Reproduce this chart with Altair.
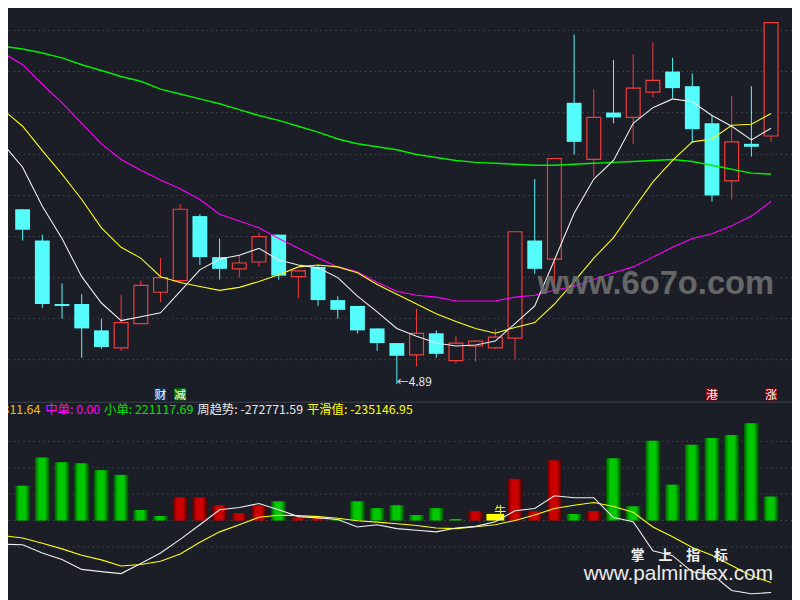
import altair as alt
import pandas as pd

# ---------------- data ----------------
opens = [6.68, 6.36, 5.71, 5.71, 5.44, 5.26, 5.51, 5.83, 5.95, 6.61, 6.19, 6.07, 6.14, 6.42, 5.99, 6.09, 5.75, 5.69, 5.46, 5.31,
         5.19, 5.41, 5.13, 5.28, 5.26, 5.36, 6.36, 6.17, 7.77, 7.19, 7.67, 7.62, 7.88, 8.09, 7.94, 7.56, 6.97, 7.35, 7.43]
closes = [6.47, 5.71, 5.69, 5.46, 5.27, 5.52, 5.90, 5.98, 6.68, 6.19, 6.07, 6.13, 6.40, 6.00, 6.05, 5.75, 5.65, 5.44, 5.31, 5.18,
          5.41, 5.20, 5.31, 5.33, 5.37, 6.45, 6.07, 7.20, 7.37, 7.62, 7.62, 7.92, 8.00, 7.92, 7.50, 6.82, 7.37, 7.32, 8.59]
highs = [6.68, 6.42, 5.92, 5.81, 5.56, 5.80, 5.95, 6.18, 6.73, 6.63, 6.38, 6.21, 6.44, 6.42, 6.06, 6.11, 5.79, 5.69, 5.46, 5.31,
         5.66, 5.44, 5.38, 5.34, 5.45, 6.45, 6.99, 7.20, 8.47, 7.91, 8.21, 8.27, 8.39, 8.23, 8.07, 7.64, 7.84, 7.94, 8.59]
lows = [6.36, 5.67, 5.56, 5.16, 5.25, 5.23, 5.50, 5.73, 5.93, 6.11, 5.96, 5.98, 6.09, 5.96, 5.77, 5.69, 5.56, 5.41, 5.23, 4.89,
        5.07, 5.16, 5.10, 5.12, 5.25, 5.14, 6.02, 5.90, 7.24, 7.01, 7.56, 7.35, 7.83, 7.82, 7.36, 6.76, 6.78, 7.22, 7.37]

# moving averages, first value belongs to the bar just before the visible window
ma5 = [7.35, 7.11, 6.71, 6.38, 5.99, 5.72, 5.54, 5.58, 5.62, 5.84, 6.06, 6.17, 6.21, 6.28, 6.16, 6.11, 6.08, 5.98, 5.79, 5.63,
       5.46, 5.38, 5.31, 5.28, 5.29, 5.33, 5.51, 5.69, 6.16, 6.64, 6.99, 7.18, 7.56, 7.72, 7.81, 7.78, 7.64, 7.53, 7.39, 7.51]
ma10 = [7.70, 7.53, 7.28, 7.04, 6.78, 6.49, 6.29, 6.18, 5.99, 5.93, 5.89, 5.85, 5.88, 5.94, 6.01, 6.09, 6.11, 6.09, 6.03, 5.91,
        5.81, 5.71, 5.61, 5.53, 5.46, 5.41, 5.47, 5.52, 5.71, 5.94, 6.18, 6.39, 6.68, 6.96, 7.18, 7.37, 7.40, 7.54, 7.55, 7.66]
ma20 = [8.28, 8.16, 7.96, 7.77, 7.56, 7.35, 7.19, 7.08, 6.98, 6.89, 6.78, 6.63, 6.56, 6.49, 6.38, 6.28, 6.18, 6.09, 6.04, 5.93,
        5.84, 5.80, 5.78, 5.74, 5.74, 5.74, 5.78, 5.80, 5.85, 5.89, 5.96, 6.03, 6.09, 6.19, 6.29, 6.38, 6.43, 6.51, 6.61, 6.76]
ma60 = [8.35, 8.32, 8.28, 8.23, 8.16, 8.10, 8.04, 7.99, 7.91, 7.86, 7.81, 7.76, 7.70, 7.64, 7.59, 7.53, 7.47, 7.40, 7.35, 7.32,
        7.29, 7.24, 7.21, 7.18, 7.16, 7.15, 7.14, 7.13, 7.13, 7.14, 7.15, 7.16, 7.17, 7.18, 7.19, 7.17, 7.13, 7.09, 7.05, 7.04]

# lower panel
bar_vals = [132000, 239000, 221000, 217000, 191000, 173000, 40000, 17000, 88000, 88000, 58000, 28000, 58000, 73000, 11000,
            14000, 4000, 73000, 47000, 58000, 21000, 47000, 6000, 36000, 25000, 158000, 36000, 228000, 25000, 36000,
            236000, 54000, 302000, 136000, 287000, 313000, 324000, 369000, 91000]
bar_kind = ["g", "g", "g", "g", "g", "g", "g", "g", "r", "r", "r", "r", "r", "g", "r", "r", "g", "g", "g", "g",
            "g", "g", "g", "r", "y", "r", "r", "r", "g", "r", "g", "g", "g", "g", "g", "g", "g", "g", "g"]
trend = [-89910, -91760, -123210, -148000, -185000, -193510, -200910, -162800, -123210, -71410, -15910, 40700, 49580,
         64380, 40700, 14800, 9990, 3700, -24420, -15910, -30710, -37000, -42920, -28120, -22200, -4810, 37000, 45880,
         93980, 86580, 86580, 11100, -4810, -114700, -133200, -194620, -203500, -264920, -277500, -272771.59]
smooth = [-57350, -65860, -86210, -107300, -131720, -149110, -172420, -166500, -153920, -126910, -82510, -42920, -15910,
          12580, 19980, 18500, 14800, 8880, -1110, -5920, -12210, -18500, -28120, -30710, -23310, -15910, 200, 21090,
          45880, 58090, 68080, 53280, 31080, -24420, -61420, -102120, -131720, -170200, -209420, -235146.95]
big_order = 311.64
mid_order = 0.00
small_order = 221117.69

signal_idx = [7, 8, 35, 38]
signal_txt = ["财", "减", "港", "涨"]

price_ticks = [8.51, 8.09, 7.67, 7.24, 6.82, 6.40, 5.98, 5.56, 5.14]
vol_ticks = [-100000, 0, 100000, 200000, 300000]

# ---------------- frames ----------------
n = len(opens)
cdf = pd.DataFrame({"i": range(n), "o": opens, "c": closes, "h": highs, "l": lows})
cdf["up"] = cdf["c"] >= cdf["o"]
cdf["top"] = cdf[["o", "c"]].max(axis=1)
cdf["bot"] = cdf[["o", "c"]].min(axis=1)

mdf = pd.DataFrame({"i": range(-1, n), "ma5": ma5, "ma10": ma10, "ma20": ma20, "ma60": ma60,
                    "trend": trend, "smooth": smooth})
vdf = pd.DataFrame({"i": range(n), "v": bar_vals, "k": bar_kind, "z": 0})
low_i = int(cdf["l"].idxmin())
lowdf = pd.DataFrame({"i": [low_i], "l": [lows[low_i]], "t": ["←" + f"{lows[low_i]:.2f}"]})
sdf = pd.DataFrame({"i": signal_idx, "t": signal_txt})

# ---------------- styles ----------------
W, H = 792, 592
SX, SY = W / 800.0, H / 600.0
BG = "#1b1e26"
RED = "#f43c3c"
CYAN = "#54fcfc"
GRID = "#454953"
FONT = "Noto Sans CJK SC"

xs = alt.Scale(domain=[-10 / 20.355, 790 / 20.355], nice=False, zero=False)
ps = alt.Scale(domain=[2.71, 8.71], nice=False, zero=False)
vs = alt.Scale(domain=[-289710, 1930290], nice=False, zero=False)

X = alt.X("i:Q", scale=xs, axis=None)


def PY(f):
    return alt.Y(f + ":Q", scale=ps, axis=None)


def VY(f):
    return alt.Y(f + ":Q", scale=vs, axis=None)


def px(v):
    return alt.value(v * SX)


def py(v):
    return alt.value(v * SY)


one = pd.DataFrame({"a": [0]})
layers = []

# grid
layers.append(alt.Chart(pd.DataFrame({"p": price_ticks})).mark_rule(color=GRID, strokeDash=[1.5, 3.5]).encode(y=PY("p")))
layers.append(alt.Chart(pd.DataFrame({"p": vol_ticks})).mark_rule(color=GRID, strokeDash=[1.5, 3.5]).encode(y=VY("p")))
layers.append(alt.Chart(one).mark_rule(color="#3e434e", strokeWidth=1).encode(y=py(400.5)))

# candles
layers.append(alt.Chart(cdf).mark_rule(strokeWidth=1).encode(
    x=X, y=PY("l"), y2="h",
    color=alt.condition("datum.up", alt.value(RED), alt.value(CYAN))))
layers.append(alt.Chart(cdf).transform_filter("!datum.up").mark_bar(size=15, color=CYAN).encode(
    x=X, y=PY("top"), y2="bot"))
layers.append(alt.Chart(cdf).transform_filter("datum.up").mark_bar(size=14, fill=BG, stroke=RED, strokeWidth=1.2).encode(
    x=X, y=PY("top"), y2="bot"))

# moving averages
for col, colr, sw in [("ma60", "#00ee00", 1.5), ("ma20", "#ff00ff", 1.1), ("ma10", "#ffff00", 1.1), ("ma5", "#f0f0f0", 1.1)]:
    layers.append(alt.Chart(mdf).mark_line(color=colr, strokeWidth=sw, clip=True).encode(x=X, y=PY(col)))

# lowest price label
layers.append(alt.Chart(lowdf).mark_text(align="left", baseline="middle", dy=-2, color="#e6e6e6",
                                         fontSize=12, font=FONT).encode(x=X, y=PY("l"), text="t:N"))

# signal boxes
sig_colors = alt.Scale(domain=signal_txt, range=["#0d3a70", "#0a7d0a", "#8a0000", "#8a0000"])
layers.append(alt.Chart(sdf).mark_square(size=145, opacity=1, filled=True, shape="square").encode(
    x=X, y=py(392.5), color=alt.Color("t:N", scale=sig_colors, legend=None)))
layers.append(alt.Chart(sdf).mark_text(color="white", fontSize=12, font=FONT, baseline="middle").encode(
    x=X, y=py(393), text="t:N"))


# lower bars with cylinder shading
def grad(c0, c1, c2, c3):
    return alt.LinearGradient(gradient="linear", x1=0, x2=1, y1=0, y2=0, stops=[
        alt.GradientStop(offset=0, color=c0), alt.GradientStop(offset=0.12, color=c1),
        alt.GradientStop(offset=0.28, color=c2), alt.GradientStop(offset=0.68, color=c2),
        alt.GradientStop(offset=0.82, color=c1), alt.GradientStop(offset=1, color=c3)])


layers.append(alt.Chart(vdf).transform_filter("datum.k == 'g'").mark_bar(
    size=15, color=grad("#005800", "#008a00", "#00c800", "#004800")).encode(x=X, y=VY("v"), y2="z"))
layers.append(alt.Chart(vdf).transform_filter("datum.k == 'r'").mark_bar(
    size=15, color=grad("#580000", "#8c0000", "#cc0000", "#480000")).encode(x=X, y=VY("v"), y2="z"))
layers.append(alt.Chart(vdf).transform_filter("datum.k == 'y'").mark_bar(
    size=18, color="#ffff00").encode(x=X, y=VY("v"), y2="z"))
layers.append(alt.Chart(vdf).transform_filter("datum.k == 'y'").mark_text(
    text="牛", color="#ffff00", fontSize=12, font=FONT, dx=5, dy=-3).encode(x=X, y=VY("v")))

# lower lines
layers.append(alt.Chart(mdf).mark_line(color="#ffff00", strokeWidth=1.1, clip=True).encode(x=X, y=VY("smooth")))
layers.append(alt.Chart(mdf).mark_line(color="#f0f0f0", strokeWidth=1.1, clip=True).encode(x=X, y=VY("trend")))

# header line
header = [
    (33, "right", "#f0c000", f"大单: {big_order:.2f}"),
    (38, "left", "#ff00ff", f"中单: {mid_order:.2f}"),
    (98, "left", "#00e000", f"小单: {small_order:.2f}"),
    (193, "left", "#e8e8e8", f"周趋势: {trend[-1]:.2f}"),
    (305, "left", "#ffff00", f"平滑值: {smooth[-1]:.2f}"),
]
for hx, al, colr, txt in header:
    layers.append(alt.Chart(one).mark_text(align=al, baseline="middle", color=colr, fontSize=12.5, font=FONT,
                                           text=txt).encode(x=px(hx), y=py(409)))

# watermarks
layers.append(alt.Chart(one).mark_text(text="www.6o7o.com", color="#6e6e6e", fontSize=33, fontWeight="bold",
                                       font="Liberation Sans", align="center", baseline="middle", opacity=0.9
                                       ).encode(x=px(661), y=py(280)))
layers.append(alt.Chart(one).mark_text(text="掌　上　指　标", color="#f2f2f2", fontSize=14, fontWeight="bold",
                                       font=FONT, align="center", baseline="middle"
                                       ).encode(x=px(685), y=py(558)))
layers.append(alt.Chart(one).mark_text(text="www.palmindex.com", color="#ececec", fontSize=21,
                                       font="Liberation Sans", align="center", baseline="middle"
                                       ).encode(x=px(684), y=py(576)))

chart = alt.layer(*layers).resolve_scale(y="independent").properties(
    width=W, height=H, background=BG, padding=0, autosize="none",
).configure_view(stroke=None)

chart.save("out.html", embed_options={"renderer": "svg", "actions": False})
